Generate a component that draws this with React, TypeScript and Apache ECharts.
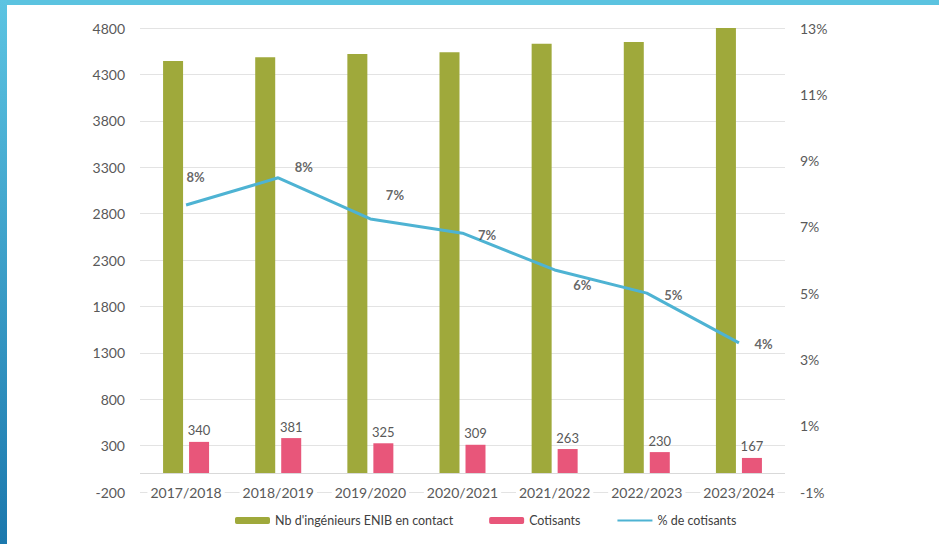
import React, { useEffect, useRef } from "react";
import * as echarts from "echarts";

const categories = ["2017/2018", "2018/2019", "2019/2020", "2020/2021", "2021/2022", "2022/2023", "2023/2024"];
const ingenieurs = [4445, 4485, 4520, 4540, 4630, 4650, 4800];
const cotisants = [340, 381, 325, 309, 263, 230, 167];
const pctCotisants = [7.66, 8.48, 7.24, 6.81, 5.7, 5.0, 3.5];
const leftTicks = [-200, 300, 800, 1300, 1800, 2300, 2800, 3300, 3800, 4300, 4800];
const rightTicks = [-1, 1, 3, 5, 7, 9, 11, 13];
const seriesNames = ["Nb d'ingénieurs ENIB en contact", "Cotisants", "% de cotisants"];

const lineLabelOffsets = [[-15, -28], [1, -11], [0, -24], [0, 2], [3, 15], [2, 2], [0, 1]];

const GREEN = "#9fa93b";
const PINK = "#e8567a";
const BLUE = "#4eb3d3";
const AXIS_TEXT = "#595959";
const FONT = "Lato, 'Open Sans', sans-serif";

export default function App() {
  const ref = useRef<HTMLDivElement>(null);
  useEffect(() => {
    if (!ref.current) return;
    const chart = echarts.init(ref.current, undefined, { renderer: "svg" });
    const option: any = {
      animation: false,
      backgroundColor: "#ffffff",
      textStyle: { fontFamily: FONT },
      graphic: [
        {
          type: "rect",
          z: 100,
          shape: { x: 0, y: 0, width: 939, height: 5 },
          style: { fill: "#5bc3e0" },
        },
        {
          type: "rect",
          z: 100,
          shape: { x: 0, y: 0, width: 7, height: 544 },
          style: {
            fill: new echarts.graphic.LinearGradient(0, 0, 0, 1, [
              { offset: 0, color: "#5cc4e2" },
              { offset: 1, color: "#1b78ad" },
            ]),
          },
        },
      ],
      grid: { left: 140, right: 154, top: 28, bottom: 52 },
      legend: {
        left: 230,
        bottom: 12,
        itemWidth: 35,
        itemHeight: 7,
        itemGap: 36,
        textStyle: { fontFamily: FONT, fontSize: 12.5, color: "#404040" },
        data: [
          seriesNames[0],
          seriesNames[1],
          { name: seriesNames[2], itemStyle: { opacity: 0 } },
        ],
      },
      xAxis: {
        type: "category",
        data: categories,
        axisLine: { show: false },
        axisTick: { show: false },
        axisLabel: {
          interval: 0,
          hideOverlap: false,
          margin: 0,
          verticalAlign: "middle",
          color: AXIS_TEXT,
          fontSize: 14,
          fontFamily: FONT,
          backgroundColor: "#ffffff",
          padding: [2, 3],
        },
      },
      yAxis: [
        {
          type: "value",
          min: -200,
          max: 4800,
          axisLine: { show: false },
          axisTick: { show: false, customValues: leftTicks },
          axisLabel: {
            customValues: leftTicks,
            margin: 15,
            color: AXIS_TEXT,
            fontSize: 14,
            fontFamily: FONT,
            formatter: (v: number) => String(v),
          },
          splitLine: { show: true, lineStyle: { color: "#e3e3e3", width: 1 } },
        },
        {
          type: "value",
          min: -1,
          max: 13,
          position: "right",
          axisLine: { show: false },
          axisTick: { show: false, customValues: rightTicks },
          axisLabel: {
            customValues: rightTicks,
            margin: 15,
            color: AXIS_TEXT,
            fontSize: 14,
            fontFamily: FONT,
            formatter: (v: number) => v + "%",
          },
          splitLine: { show: false },
        },
      ],
      series: [
        {
          name: seriesNames[0],
          type: "bar",
          data: ingenieurs,
          barWidth: 20,
          barGap: "30%",
          itemStyle: { color: GREEN },
          markLine: {
            silent: true,
            symbol: "none",
            label: { show: false },
            lineStyle: { color: "#d9d9d9", type: "solid", width: 1 },
            data: [{ yAxis: 0 }],
          },
        },
        {
          name: seriesNames[1],
          type: "bar",
          data: cotisants,
          barWidth: 20,
          itemStyle: { color: PINK },
          label: {
            show: true,
            position: "top",
            distance: 5,
            color: AXIS_TEXT,
            fontSize: 13,
            fontFamily: FONT,
          },
        },
        {
          name: seriesNames[2],
          type: "line",
          yAxisIndex: 1,
          data: pctCotisants,
          symbol: "none",
          lineStyle: { color: BLUE, width: 3 },
          itemStyle: { color: BLUE },
          z: 5,
        },
        {
          name: "labels",
          type: "scatter",
          yAxisIndex: 1,
          data: pctCotisants.map((v, i) => ({ value: v, label: { offset: lineLabelOffsets[i] } })),
          symbolSize: 1,
          itemStyle: { color: "rgba(0,0,0,0)" },
          silent: true,
          z: 6,
          label: {
            show: true,
            position: "right",
            distance: 15,
            color: "#404040",
            fontWeight: "bold",
            fontSize: 13,
            fontFamily: FONT,
            formatter: (p: any) => Math.round(p.value) + "%",
          },
        },
      ],
    };
    chart.setOption(option);
    return () => chart.dispose();
  }, []);
  return (
    <div
      ref={ref}
      style={{ position: "absolute", left: 0, top: 0, width: 939, height: 544 }}
    />
  );
}
